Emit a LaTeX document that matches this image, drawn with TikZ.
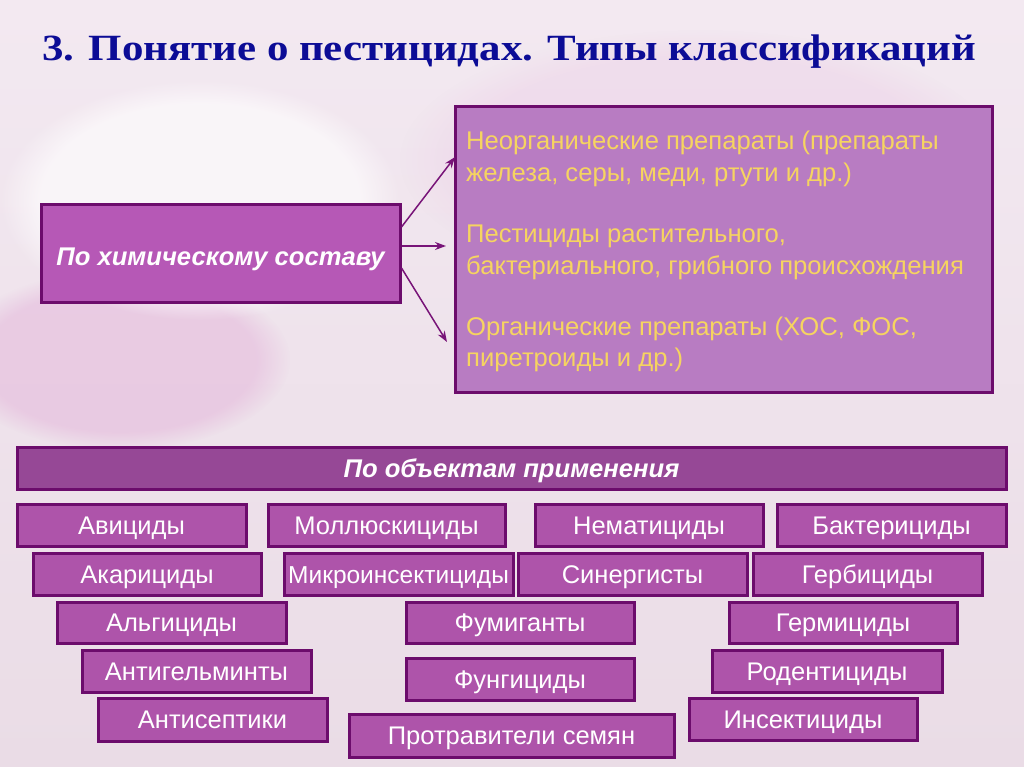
\documentclass[tikz,border=0pt]{standalone}
\usepackage{fontspec}
\setmainfont{Liberation Sans}
\newfontfamily\titlefont{Liberation Serif}
\usetikzlibrary{arrows.meta,fadings}
\definecolor{bgtop}{RGB}{243,233,241}
\definecolor{bgbot}{RGB}{234,220,230}
\definecolor{blobpink}{RGB}{228,180,218}
\definecolor{bordp}{RGB}{108,12,108}
\definecolor{smallfill}{RGB}{174,84,170}
\definecolor{headfill}{RGB}{150,72,150}
\definecolor{chemfill}{RGB}{182,88,182}
\definecolor{bigfill}{RGB}{184,124,194}
\definecolor{ytext}{RGB}{246,212,96}
\definecolor{titleblue}{RGB}{12,12,150}
\definecolor{arrowc}{RGB}{120,20,120}
\tikzset{
  boxbase/.style={draw=bordp, line width=3pt, inner sep=0pt, text=white,
     text height=18pt, text depth=0pt},
  smallbox/.style={boxbase, fill=smallfill, minimum width=228pt, minimum height=42pt,
     font=\fontsize{25.5}{28}\selectfont},
  headbox/.style={boxbase, fill=headfill, font=\fontsize{25.6}{28}\selectfont\bfseries\itshape},
  chembox/.style={boxbase, fill=chemfill, text height=23pt, font=\fontsize{25.6}{28}\selectfont\bfseries\itshape},
  bigbox/.style={draw=bordp, line width=3pt, fill=bigfill, inner sep=0pt},
  ytxt/.style={text=ytext, anchor=west, align=left, inner sep=0pt,
     font=\fontsize{25.6}{31.5}\selectfont},
  arr/.style={draw=arrowc, line width=1.5pt, -{Stealth[length=11pt,width=8pt]}}
}
\begin{document}
\begin{tikzpicture}[x=1pt,y=-1pt]
\useasboundingbox (0,0) rectangle (1024,767);
% background
\shade[top color=bgtop, bottom color=bgbot] (0,0) rectangle (1024,767);
\fill[blobpink, opacity=0.5, path fading=circle with fuzzy edge 20 percent] (120,360) ellipse (170pt and 90pt);
\fill[white, opacity=0.6, path fading=circle with fuzzy edge 20 percent] (200,200) ellipse (200pt and 120pt);
\fill[blobpink!70, opacity=0.35, path fading=circle with fuzzy edge 20 percent] (700,160) ellipse (300pt and 130pt);
% title
\node[anchor=west, inner sep=0pt, text=titleblue, font=\titlefont\bfseries\fontsize{37}{40}\selectfont] (title) at (42,52) {\scalebox{1.16}[1]{3. Понятие о пестицидах. Типы классификаций}};
% chemical composition
\node[chembox, minimum width=359pt, minimum height=97pt] (chem) at (220.5,253.5) {По химическому составу};
\node[bigbox, minimum width=537pt, minimum height=285pt] (big) at (723.5,249.5) {};
\node[ytxt] (t1) at (466,159) {Неорганические препараты (препараты\\железа, серы, меди, ртути и др.)};
\node[ytxt] (t2) at (466,252.5) {Пестициды растительного,\\бактериального, грибного происхождения};
\node[ytxt] (t3) at (466,344.5) {Органические препараты (ХОС, ФОС,\\пиретроиды и др.)};
\coordinate (e1) at (455,157);
\coordinate (e2) at (446,246);
\coordinate (e3) at (447,342);
\draw[arr] ([yshift=26.5pt]chem.east) -- (e1);
\draw[arr] ([yshift=7.5pt]chem.east) -- (e2);
\draw[arr] ([yshift=-14.5pt]chem.east) -- (e3);
% objects of application
\node[headbox, minimum width=989pt, minimum height=42pt] (head) at (511.5,468) {По объектам применения};
\node[smallbox, minimum width=229pt] (b1) at (131.5,525) {Авициды};
\node[smallbox, minimum width=237pt] (b2) at (386.5,525) {Моллюскициды};
\node[smallbox] (b3) at (649,525) {Нематициды};
\node[smallbox, minimum width=229pt] (b4) at (891.5,525) {Бактерициды};
\node[smallbox] (b5) at (147,574) {Акарициды};
\node[smallbox, minimum width=229pt] (b6) at (398.5,574) {\fontsize{24.5}{28}\selectfont Микроинсектициды};
\node[smallbox, minimum width=229pt] (b7) at (632.5,574) {Синергисты};
\node[smallbox, minimum width=229pt] (b8) at (867.5,574) {Гербициды};
\node[smallbox, minimum width=229pt, minimum height=41pt] (b9) at (171.5,622.5) {Альгициды};
\node[smallbox, minimum height=41pt] (b10) at (520,622.5) {Фумиганты};
\node[smallbox, minimum height=41pt] (b11) at (843,622.5) {Гермициды};
\node[smallbox, minimum width=229pt] (b12) at (196.5,671) {Антигельминты};
\node[smallbox] (b13) at (520,679) {Фунгициды};
\node[smallbox, minimum width=230pt] (b14) at (827,671) {Родентициды};
\node[smallbox, minimum width=229pt, minimum height=43pt] (b15) at (212.5,719.5) {Антисептики};
\node[smallbox, minimum width=325pt, minimum height=43pt] (b16) at (511.5,735.5) {Протравители семян};
\node[smallbox] (b17) at (803,719) {Инсектициды};
\end{tikzpicture}
\end{document}
